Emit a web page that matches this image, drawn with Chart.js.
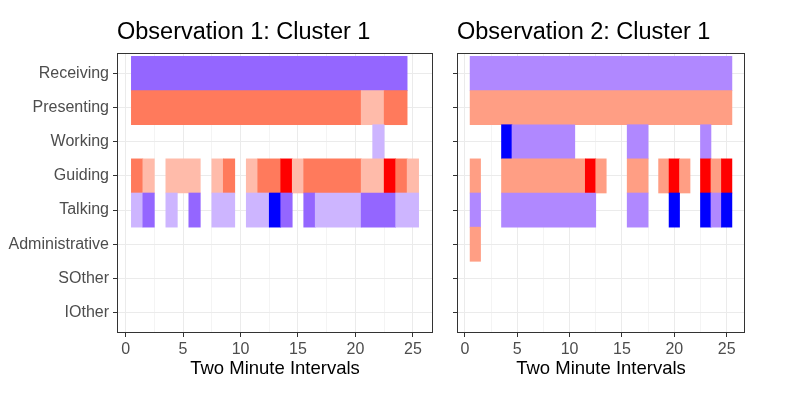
<!DOCTYPE html>
<html>
<head>
<meta charset="utf-8">
<script src="https://cdn.jsdelivr.net/npm/chart.js@4.4.1/dist/chart.umd.min.js"></script>
<style>
  html, body { margin: 0; padding: 0; background: #fff; }
  #wrap { position: relative; width: 790px; height: 397px; overflow: hidden; }
  canvas { position: absolute; top: 0; }
  #c1 { left: 0; }
  #c2 { left: 445px; }
</style>
</head>
<body>
<div id="wrap">
  <canvas id="c1" width="445" height="397"></canvas>
  <canvas id="c2" width="345" height="397"></canvas>
</div>
<script>
// rows top to bottom
const categories = ['Receiving', 'Presenting', 'Working', 'Guiding', 'Talking', 'Administrative', 'SOther', 'IOther'];
const panelTitles = ['Observation 1: Cluster 1', 'Observation 2: Cluster 1'];
const xTitle = 'Two Minute Intervals';
const xMajorTicks = [0, 5, 10, 15, 20, 25];
const xMinorTicks = [2.5, 7.5, 12.5, 17.5, 22.5];

// one character per two minute interval (1..25), '.' = nothing coded
const obs1Rows = [
  'PPPPPPPPPPPPPPPPPPPPPPPP.',
  'CCCCCCCCCCCCCCCCCCCCKKCC.',
  '.....................L...',
  'CK.KKK.KC.KCCRKCCCCCKKRCK',
  'LP.L.P.LL.LLBP.PLLLLPPPLL',
  '.........................',
  '.........................',
  '.........................'
];
const obs2Rows = [
  'QQQQQQQQQQQQQQQQQQQQQQQQQ',
  'SSSSSSSSSSSSSSSSSSSSSSSSS',
  '...BQQQQQQ.....QQ.....Q..',
  'S..SSSSSSSSRS..SS.SRS.RSR',
  'Q..QQQQQQQQQ...QQ..B..BQB',
  'S........................',
  '.........................',
  '.........................'
];

const palette = {
  P: '#9466FF', L: '#CDB5FF', B: '#0000FF', Q: '#B088FF',
  C: '#FF7A5C', K: '#FFBBAA', R: '#FF0000', S: '#FF9E84'
};

Chart.defaults.font.family = "'Liberation Sans', Arial, sans-serif";

// merge neighbouring intervals with the same code into one tile
function toRuns(rows) {
  const runs = [];
  rows.forEach((row, r) => {
    let i = 0;
    while (i < row.length) {
      const code = row[i];
      let j = i;
      while (j + 1 < row.length && row[j + 1] === code) j++;
      if (code !== '.') runs.push({ row: r + 1, from: i + 1, to: j + 1, code: code });
      i = j + 1;
    }
  });
  return runs;
}

const panelFrame = {
  id: 'panelFrame',
  afterDraw(chart, args, opts) {
    const { ctx, chartArea: a } = chart;
    ctx.save();
    ctx.strokeStyle = '#333333';
    ctx.lineWidth = 1;
    ctx.strokeRect(Math.round(a.left) + 0.5, Math.round(a.top) + 0.5,
      Math.round(a.right - a.left) - 1, Math.round(a.bottom - a.top) - 1);
    ctx.fillStyle = '#000';
    ctx.font = "23.5px 'Liberation Sans', Arial, sans-serif";
    ctx.textBaseline = 'alphabetic';
    ctx.textAlign = 'left';
    ctx.fillText(opts.text, a.left, 39);
    ctx.restore();
  }
};

function makeChart(id, rows, title, showLabels, yWidth, padRight) {
  const runs = toRuns(rows);
  const yTicks = categories.map((c, i) => i + 1);
  return new Chart(document.getElementById(id), {
    type: 'bar',
    data: {
      datasets: [{
        data: runs.map(r => ({ x: [r.from - 0.5, r.to + 0.5], y: r.row })),
        backgroundColor: runs.map(r => palette[r.code]),
        borderWidth: 0,
        barPercentage: 1,
        categoryPercentage: 1
      }]
    },
    options: {
      responsive: false,
      animation: false,
      indexAxis: 'y',
      layout: { padding: { top: 53, right: padRight, left: 0, bottom: 0 } },
      plugins: {
        legend: { display: false },
        tooltip: { enabled: false },
        panelFrame: { text: title }
      },
      scales: {
        x: {
          type: 'linear',
          min: -0.75,
          max: 26.75,
          offset: false,
          afterBuildTicks: s => {
            s.ticks = xMajorTicks.concat(xMinorTicks).sort((a, b) => a - b).map(v => ({ value: v }));
          },
          afterFit: s => { s.height = 64; },
          border: { display: false },
          grid: {
            offset: false,
            color: c => (c.tick && xMajorTicks.includes(c.tick.value)) ? '#EBEBEB' : '#F4F4F4',
            tickColor: c => (c.tick && xMajorTicks.includes(c.tick.value)) ? '#333333' : 'rgba(0,0,0,0)',
            tickLength: 4
          },
          ticks: {
            autoSkip: false,
            maxRotation: 0,
            padding: 3,
            color: '#4D4D4D',
            font: { size: 16 },
            callback: v => xMajorTicks.includes(v) ? String(v) : ''
          },
          title: {
            display: true,
            text: xTitle,
            color: '#000',
            font: { size: 18.5 },
            padding: { top: 0, bottom: 17 }
          }
        },
        y: {
          type: 'linear',
          reverse: true,
          min: 0.4,
          max: 8.6,
          offset: false,
          afterBuildTicks: s => { s.ticks = yTicks.map(v => ({ value: v })); },
          afterFit: s => { s.width = yWidth; },
          border: { display: false },
          grid: { offset: false, color: '#EBEBEB', tickColor: '#333333', tickLength: 4 },
          ticks: {
            display: showLabels,
            autoSkip: false,
            padding: 4,
            color: '#4D4D4D',
            font: { size: 16 },
            callback: v => categories[v - 1] || ''
          }
        }
      }
    },
    plugins: [panelFrame]
  });
}

makeChart('c1', obs1Rows, panelTitles[0], true, 117, 12);
makeChart('c2', obs2Rows, panelTitles[1], false, 12, 45);
</script>
</body>
</html>
